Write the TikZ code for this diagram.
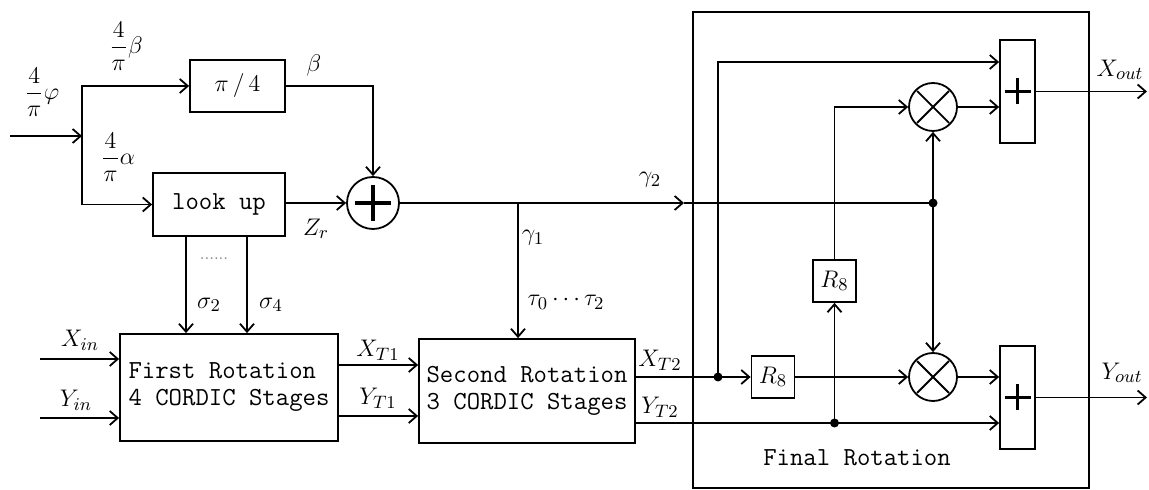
\documentclass[tikz,border=0pt]{standalone}
\usepackage{amsmath}
\usepackage{fontspec}
\usetikzlibrary{arrows.meta,positioning,calc}

\begin{document}
\begin{tikzpicture}[x=0.5pt,y=-0.5pt,line width=0.9pt,>={Straight Barb[length=4pt,width=7pt]},font=\fontsize{13}{15}\selectfont,
box/.style={draw,inner sep=2pt,align=left,font=\ttfamily\fontsize{13}{13.5}\selectfont},
rbox/.style={draw,inner sep=0pt,minimum width=21.5pt,minimum height=21pt},
sum/.style={circle,draw,minimum size=26pt,inner sep=0pt,path picture={\draw[line width=1.6pt] ([xshift=-9pt]path picture bounding box.center)--([xshift=9pt]path picture bounding box.center) ([yshift=-9pt]path picture bounding box.center)--([yshift=9pt]path picture bounding box.center);}},
mul/.style={circle,draw,minimum size=24pt,inner sep=0pt,path picture={\draw ([shift={(-8pt,-8pt)}]path picture bounding box.center)--([shift={(8pt,8pt)}]path picture bounding box.center) ([shift={(-8pt,8pt)}]path picture bounding box.center)--([shift={(8pt,-8pt)}]path picture bounding box.center);}},
adder/.style={draw,minimum width=17.5pt,minimum height=51.5pt,inner sep=0pt,path picture={\draw[line width=1.5pt] ([xshift=-6.5pt]path picture bounding box.center)--([xshift=6.5pt]path picture bounding box.center) ([yshift=-6.5pt]path picture bounding box.center)--([yshift=6.5pt]path picture bounding box.center);}},
dot/.style={circle,fill,inner sep=0pt,minimum size=4.5pt}]
\useasboundingbox (0,0) rectangle (1149,490);
% angle path
\node[box,minimum width=47.5pt,minimum height=26pt] (quarter) at (237.5,86) {$\pi\,/\,4$};
\node[box,minimum width=66pt,minimum height=31.5pt] (lookup) at (219,204.5) {look up};
\node[sum] (add) at (373,203) {};
% rotation stages
\node[box,minimum width=109pt,minimum height=53.5pt] (first) at (229,387.5) {First Rotation\\4 CORDIC Stages};
\node[box,minimum width=108pt,minimum height=52pt] (second) at (527,391) {Second Rotation\\3 CORDIC Stages};
% final rotation
\node[draw,minimum width=198pt,minimum height=238pt,inner sep=0pt] (final) at (891,250) {};
\node[font=\ttfamily\fontsize{13}{13}\selectfont] (finaltxt) at (857,458) {Final Rotation};
\node[mul] (mulx) at (933,107) {};
\node[mul] (muly) at (933,377) {};
\node[adder] (addx) at (1017.5,91.5) {};
\node[adder] (addy) at (1017.5,397.5) {};
\node[rbox] (r8v) at (834.5,281) {$R_8$};
\node[rbox] (r8h) at (773,377) {$R_8$};

\coordinate (phi) at (10,136);
\coordinate (split) at (82,136);
\coordinate (g2) at (684,203);
\coordinate (tapg) at (518,203);
\coordinate (dotg) at (933,203);
\coordinate (tapx) at (718,377);
\coordinate (tapy) at (834.5,423);
\coordinate (top) at (718,62);
\coordinate (xin) at (40,359);
\coordinate (yin) at (40,418);
\coordinate (xt1) at (0,365);
\coordinate (yt1) at (0,416);
\coordinate (s2) at (186,0);
\coordinate (s4) at (247,0);
\coordinate (xout) at (1147,91.5);
\coordinate (yout) at (1147,397.5);

\draw[->] (phi) -- (split);
\draw[->] (split) |- (quarter.west);
\draw[->] (split) |- (lookup.west);
\draw[->] (quarter.east) -| (add.north);
\draw[->] (lookup.east |- add) -- (add.west);
\draw[->] (add.east) -- (g2);
\draw (g2) -- (dotg);
\draw[->] (tapg) -- (tapg |- second.north);
\draw[->] (lookup.south -| s2) -- (first.north -| s2);
\draw[->] (lookup.south -| s4) -- (first.north -| s4);
\draw[->] (xin) -- (xin -| first.west);
\draw[->] (yin) -- (yin -| first.west);
\draw[->] (first.east |- xt1) -- (second.west |- xt1);
\draw[->] (first.east |- yt1) -- (second.west |- yt1);
\draw[->] (second.east |- r8h) -- (r8h.west);
\draw[->] (tapx) -- (top) -- (addx.west |- top);
\draw[->] (r8h.east) -- (muly.west);
\draw[->] (second.east |- tapy) -- (addy.west |- tapy);
\draw[->] (tapy) -- (r8v.south);
\draw[->] (r8v.north) |- (mulx.west);
\draw[->] (dotg) -- (mulx.south);
\draw[->] (dotg) -- (muly.north);
\draw[->] (mulx.east) -- (addx.west |- mulx);
\draw[->] (muly.east) -- (addy.west |- muly);
\draw[->] (addx.east) -- (xout);
\draw[->] (addy.east) -- (yout);
\node[dot] at (tapx) {};
\node[dot] at (tapy) {};
\node[dot] at (dotg) {};

% labels
\node (lphi) at (42,92) {$\dfrac{4}{\pi}\varphi$};
\node (lbeta) at (126,46) {$\dfrac{4}{\pi}\beta$};
\node (lalpha) at (118,157) {$\dfrac{4}{\pi}\alpha$};
\node (beta) at (314,66) {$\beta$};
\node (zr) at (316,229) {$Z_r$};
\node (gam2) at (650,180) {$\gamma_2$};
\node (gam1) at (533,238) {$\gamma_1$};
\node[text=gray,font=\fontsize{8}{8}\selectfont] (gap) at (214,259) {......};
\node (sig2) at (209,305) {$\sigma_2$};
\node (sig4) at (271,305) {$\sigma_4$};
\node (tau) at (566,302) {$\tau_0\cdots\tau_2$};
\node (lxin) at (80,340) {$X_{in}$};
\node (lyin) at (76,400) {$Y_{in}$};
\node (lxt1) at (378,350) {$X_{T1}$};
\node (lyt1) at (378,398) {$Y_{T1}$};
\node (lxt2) at (660,360) {$X_{T2}$};
\node (lyt2) at (660,407) {$Y_{T2}$};
\node (lxout) at (1120,70) {$X_{out}$};
\node (lyout) at (1122,373) {$Y_{out}$};
\end{tikzpicture}
\end{document}
